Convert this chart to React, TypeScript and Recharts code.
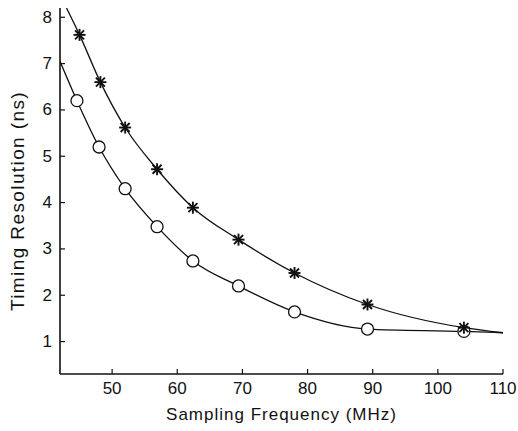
import { ComposedChart, Line, Scatter, XAxis, YAxis } from 'recharts'

const starFreq = [45, 48.2, 52, 56.9, 62.4, 69.4, 78, 89.2, 104]
const starRes = [7.62, 6.6, 5.62, 4.72, 3.89, 3.2, 2.48, 1.8, 1.3]
const circleFreq = [44.6, 48, 52, 56.9, 62.4, 69.4, 78, 89.2, 104]
const circleRes = [6.2, 5.2, 4.3, 3.48, 2.74, 2.2, 1.64, 1.27, 1.22]

// Where the fitted curves start and end beyond the markers
const starCurveEnds = [
  { x: 43, y: 8.2 },
  { x: 110, y: 1.19 },
]
const circleCurveEnds = [
  { x: 42, y: 7.05 },
  { x: 110, y: 1.19 },
]

const xTicks = [50, 60, 70, 80, 90, 100, 110]
const yTicks = [1, 2, 3, 4, 5, 6, 7, 8]

const FONT = '"Liberation Sans", Arial, sans-serif'
const INK = '#111'

const starPoints = starFreq.map((x, i) => ({ x, y: starRes[i] }))
const circlePoints = circleFreq.map((x, i) => ({ x, y: circleRes[i] }))
const starCurve = [starCurveEnds[0], ...starPoints, starCurveEnds[1]]
const circleCurve = [circleCurveEnds[0], ...circlePoints, circleCurveEnds[1]]

function YTick({ x, y, payload }: any) {
  return (
    <g>
      <line x1={x} x2={x + 5} y1={y} y2={y} stroke={INK} strokeWidth={1.2} />
      <text x={x - 8} y={y} textAnchor="end" dominantBaseline="central" fontSize={17} fontFamily={FONT} fill={INK}>
        {payload.value}
      </text>
    </g>
  )
}

function XTick({ x, y, payload }: any) {
  return (
    <g>
      <line x1={x} x2={x} y1={y} y2={y - 5} stroke={INK} strokeWidth={1.2} />
      <text x={x} y={y + 14} textAnchor="middle" dominantBaseline="central" fontSize={17} fontFamily={FONT} fill={INK}>
        {payload.value}
      </text>
    </g>
  )
}

function YLabel() {
  return (
    <text
      transform="translate(24, 201) rotate(-90)"
      textAnchor="middle"
      fontSize={19}
      letterSpacing={1.4}
      fontFamily={FONT}
      fill={INK}
    >
      Timing Resolution (ns)
    </text>
  )
}

function Star({ cx, cy }: any) {
  const r = 6
  const d = r * 0.75
  return (
    <g stroke={INK} strokeWidth={1.9}>
      <line x1={cx - r} x2={cx + r} y1={cy} y2={cy} />
      <line x1={cx} x2={cx} y1={cy - r} y2={cy + r} />
      <line x1={cx - d} x2={cx + d} y1={cy - d} y2={cy + d} />
      <line x1={cx - d} x2={cx + d} y1={cy + d} y2={cy - d} />
    </g>
  )
}

function Ring({ cx, cy }: any) {
  return <circle cx={cx} cy={cy} r={6} fill="#fff" stroke={INK} strokeWidth={1.3} />
}

export default function App() {
  return (
    <div style={{ position: 'absolute', left: 0, top: 0, background: '#fff' }}>
      <ComposedChart width={518} height={431} margin={{ top: 8, right: 15, bottom: 27, left: 0 }}>
        <XAxis
          type="number"
          dataKey="x"
          domain={[42, 110]}
          ticks={xTicks}
          allowDataOverflow
          height={30}
          tickLine={false}
          tickSize={0}
          tickMargin={0}
          tick={<XTick />}
          axisLine={{ stroke: INK, strokeWidth: 1.6 }}
          label={{
            value: 'Sampling Frequency (MHz)',
            position: 'insideBottom',
            offset: -16,
            fontSize: 17,
            fontFamily: FONT,
            fill: INK,
            letterSpacing: 1,
          }}
        />
        <YAxis
          type="number"
          dataKey="y"
          domain={[0.3, 8.2]}
          ticks={yTicks}
          allowDataOverflow
          width={60}
          tickLine={false}
          tickSize={0}
          tickMargin={0}
          tick={<YTick />}
          axisLine={{ stroke: INK, strokeWidth: 1.6 }}
          label={{ content: () => <YLabel /> }}
        />
        <Line
          data={starCurve}
          dataKey="y"
          type="monotone"
          stroke={INK}
          strokeWidth={1.3}
          dot={false}
          activeDot={false}
          isAnimationActive={false}
        />
        <Line
          data={circleCurve}
          dataKey="y"
          type="monotone"
          stroke={INK}
          strokeWidth={1.3}
          dot={false}
          activeDot={false}
          isAnimationActive={false}
        />
        <Scatter data={circlePoints} dataKey="y" shape={<Ring />} isAnimationActive={false} />
        <Scatter data={starPoints} dataKey="y" shape={<Star />} isAnimationActive={false} />
      </ComposedChart>
    </div>
  )
}
